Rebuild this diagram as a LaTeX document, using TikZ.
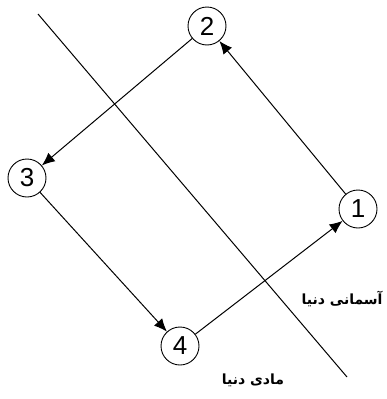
\documentclass[tikz,border=0pt]{standalone}
\usepackage{fontspec}
\setmainfont{Liberation Sans}
\newfontfamily\urdufont[Script=Arabic]{DejaVu Sans}
\TeXXeTstate=1
\usetikzlibrary{arrows.meta}

\begin{document}
\begin{tikzpicture}[x=1pt,y=-1pt,->,>={Latex[length=13pt,width=11pt]},line width=1pt,
    state/.style={circle,draw,line width=0.9pt,minimum size=38pt,inner sep=0pt,font=\fontsize{26}{26}\selectfont},
    label/.style={font=\urdufont\bfseries\fontsize{14}{16}\selectfont,inner sep=1pt}]
    \useasboundingbox (0,0) rectangle (387,399);
    \node[state] (s1) at (358,209) {1};
    \node[state] (s2) at (207,26) {2};
    \node[state] (s3) at (27,178) {3};
    \node[state] (s4) at (180,346) {4};

    \path (s1) edge (s2)
          (s2) edge (s3)
          (s3) edge (s4)
          (s4) edge (s1);

    % boundary between the two worlds
    \coordinate (top) at (38,14);
    \coordinate (bottom) at (347,377);
    \draw[-] (top) -- (bottom);

    \node[label,anchor=east] (sky) at (384,299) {\beginR آسمانی دنیا\endR};
    \node[label] (earth) at (253,380) {\beginR مادی دنیا\endR};
\end{tikzpicture}
\end{document}
